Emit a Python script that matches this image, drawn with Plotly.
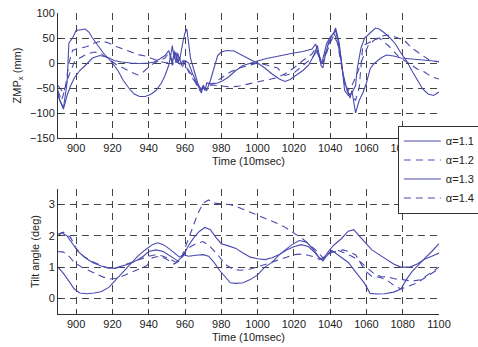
import plotly.graph_objects as go

# ---------------- data ----------------
legend_names = ["α=1.1", "α=1.2", "α=1.3", "α=1.4"]

zmp_a11 = [(890,-60),(891,-75),(893,-90),(895,-40),(896,40),(898,50),(900,65),(903,67),(905,68),(907,62),
           (909,50),(912,35),(915,20),(918,8),(920,0),(923,-15),(926,-35),(929,-50),(932,-62),(935,-67),
           (938,-67),(941,-63),(944,-55),(947,-40),(949,-25),(951,-5),(952,15),(953,-5),(954,25),(955,0),
           (956,20),(957,5),(958,30),(959,45),(960,60),(961,68),(962,40),(963,10),(965,-15),(967,-40),
           (969,-55),(970,-48),(972,-55),(974,-35),(976,-10),(978,15),(980,22),(983,25),(987,24),(990,18),
           (994,10),(998,3),(1000,0),(1004,-10),(1008,-22),(1012,-32),(1015,-37),(1018,-33),(1021,-25),
           (1025,-15),(1028,-5),(1031,15),(1033,35),(1034,10),(1035,-5),(1036,-10),(1037,10),(1039,40),
           (1041,55),(1043,65),(1044,50),(1046,10),(1047,-30),(1048,-55),(1050,-65),(1052,-60),(1054,-45),
           (1055,-10),(1057,30),(1059,50),(1062,60),(1065,70),(1067,68),(1070,60),(1073,50),(1076,38),
           (1079,20),(1082,5),(1085,-15),(1088,-35),(1091,-52),(1094,-62),(1097,-65),(1100,-58)]

zmp_a12 = [(890,-55),(892,-75),(894,-50),(896,0),(898,25),(900,28),(903,30),(906,33),(910,40),(914,44),
           (918,40),(922,33),(926,28),(930,22),(934,17),(938,14),(942,8),(946,3),(950,0),(952,10),(954,-5),
           (956,5),(958,-10),(960,0),(962,-15),(964,-25),(966,-40),(968,-55),(970,-50),(972,-45),(975,-44),
           (980,-46),(985,-48),(990,-46),(995,-42),(1000,-38),(1005,-34),(1010,-30),(1015,-22),(1020,-10),
           (1025,5),(1030,18),(1032,30),(1034,10),(1036,0),(1038,20),(1040,40),(1042,55),(1044,40),(1046,0),
           (1048,-40),(1050,-55),(1052,-45),(1055,-20),(1058,10),(1061,35),(1064,45),(1067,52),(1070,55),
           (1073,56),(1077,50),(1081,45),(1085,30),(1089,20),(1092,12),(1095,5),(1100,2)]

zmp_a13 = [(890,-65),(892,-85),(893,-92),(895,-65),(897,-45),(899,-30),(902,-15),(905,-5),(909,10),(913,15),
           (917,12),(921,5),(925,2),(930,0),(935,-1),(940,0),(943,2),(946,8),(949,15),(951,25),(952,12),
           (953,35),(954,8),(955,22),(956,0),(957,12),(958,-5),(960,5),(962,0),(964,-20),(966,-35),(968,-50),
           (969,-60),(970,-45),(971,-55),(972,-40),(975,-42),(978,-40),(981,-35),(984,-28),(988,-15),(992,-5),
           (996,0),(1000,4),(1005,9),(1010,13),(1015,17),(1020,20),(1025,23),(1030,28),(1032,38),(1034,8),
           (1035,-2),(1036,8),(1038,38),(1040,52),(1042,60),(1043,70),(1045,40),(1047,-20),(1049,-50),
           (1051,-70),(1052,-55),(1054,-100),(1056,-75),(1058,-60),(1060,-40),(1062,-12),(1064,-2),(1068,10),
           (1071,16),(1075,14),(1079,10),(1085,8),(1092,5),(1100,3)]

zmp_a14 = [(890,-45),(893,-60),(896,-25),(899,2),(902,10),(906,18),(910,22),(914,18),(918,8),(922,-3),
           (926,-10),(930,-18),(934,-24),(937,-18),(940,-8),(943,0),(946,5),(949,10),(951,20),(953,5),
           (955,15),(957,-5),(959,5),(961,-10),(963,-25),(965,-35),(967,-45),(969,-52),(971,-40),(975,-42),
           (980,-30),(985,-18),(990,-10),(995,-5),(1000,0),(1005,-4),(1011,-10),(1015,-25),(1020,-20),
           (1025,-5),(1030,10),(1033,25),(1035,5),(1037,15),(1040,45),(1042,60),(1044,45),(1046,5),
           (1048,-45),(1050,-60),(1052,-65),(1054,-75),(1056,-50),(1058,35),(1062,42),(1067,50),(1072,35),
           (1078,12),(1084,-2),(1088,-12),(1092,-18),(1096,-28),(1100,-32)]

tilt_a11 = [(890,1.0),(893,0.8),(896,0.55),(899,0.3),(902,0.17),(906,0.15),(910,0.17),(914,0.22),(918,0.35),
            (922,0.6),(926,0.85),(930,1.1),(934,1.35),(938,1.55),(942,1.72),(945,1.78),(948,1.72),(951,1.6),
            (954,1.45),(957,1.32),(959,1.4),(962,1.35),(966,1.38),(970,1.4),(973,1.35),(976,1.15),(979,0.9),
            (982,0.7),(985,0.5),(988,0.48),(992,0.5),(996,0.6),(1000,0.75),(1004,1.0),(1008,1.15),(1012,1.4),
            (1015,1.53),(1019,1.72),(1023,1.85),(1027,1.8),(1031,1.55),(1034,1.3),(1036,1.2),(1038,1.35),
            (1041,1.53),(1045,1.35),(1050,1.15),(1054,0.85),(1059,0.48),(1062,0.16),(1066,0.14),(1070,0.15),
            (1075,0.2),(1079,0.3),(1082,0.6),(1085,0.85),(1089,1.1),(1092,1.27),(1096,1.5),(1100,1.75)]

tilt_a12 = [(890,2.05),(893,2.12),(897,1.95),(900,1.6),(904,1.35),(908,1.2),(912,1.1),(916,1.0),(920,0.95),
            (924,1.0),(928,1.1),(932,1.18),(936,1.28),(940,1.35),(944,1.4),(948,1.35),(952,1.25),(955,1.15),
            (958,1.3),(961,1.75),(964,2.2),(967,2.7),(970,3.05),(973,3.15),(976,3.05),(980,3.02),(985,3.0),
            (990,2.9),(995,2.78),(1000,2.65),(1005,2.55),(1010,2.42),(1015,2.28),(1020,2.1),(1025,1.9),
            (1030,1.65),(1033,1.5),(1036,1.3),(1040,1.45),(1043,1.5),(1047,1.55),(1050,1.5),(1054,1.4),
            (1057,1.1),(1060,0.85),(1063,0.7),(1067,0.68),(1071,0.6),(1075,0.42),(1079,0.3),(1083,0.38),
            (1088,0.5),(1092,0.65),(1096,0.8),(1100,0.95)]

tilt_a13 = [(890,2.0),(892,2.1),(895,2.0),(898,1.75),(901,1.5),(905,1.3),(909,1.15),(913,1.05),(917,0.98),
            (921,0.96),(925,1.02),(929,1.1),(933,1.2),(937,1.35),(940,1.5),(944,1.55),(948,1.5),(952,1.35),
            (956,1.2),(959,1.35),(962,1.7),(965,1.95),(968,2.15),(971,2.27),(974,2.2),(977,1.95),(980,1.75),
            (984,1.68),(988,1.6),(992,1.45),(996,1.32),(1000,1.27),(1004,1.24),(1008,1.3),(1012,1.4),
            (1016,1.55),(1020,1.65),(1024,1.72),(1028,1.66),(1031,1.5),(1034,1.3),(1036,1.25),(1039,1.5),
            (1042,1.7),(1046,1.9),(1050,2.15),(1053,2.2),(1056,2.0),(1059,1.8),(1063,1.55),(1067,1.4),
            (1071,1.25),(1075,1.1),(1079,1.0),(1084,1.0),(1088,1.1),(1092,1.25),(1096,1.35),(1100,1.45)]

tilt_a14 = [(890,1.5),(893,1.48),(896,1.35),(899,1.15),(903,1.0),(907,0.9),(911,0.8),(915,0.68),(919,0.62),
            (923,0.65),(927,0.75),(931,0.85),(935,0.95),(939,1.05),(942,1.3),(946,1.35),(950,1.25),(954,1.1),
            (957,1.2),(960,1.5),(963,1.65),(966,1.75),(970,1.82),(974,1.65),(978,1.4),(982,1.1),(986,0.95),
            (990,0.9),(995,0.92),(1000,1.0),(1005,1.1),(1010,1.2),(1015,1.3),(1020,1.4),(1025,1.42),
            (1030,1.35),(1034,1.25),(1037,1.3),(1040,1.5),(1044,1.55),(1048,1.45),(1052,1.35),(1056,1.2),
            (1060,1.0),(1064,0.8),(1068,0.7),(1072,0.68),(1076,0.62),(1080,0.6),(1085,0.55),(1090,0.6),
            (1095,0.8),(1100,1.0)]

x_ticks = [900, 920, 940, 960, 980, 1000, 1020, 1040, 1060, 1080, 1100]
zmp_ticks = [-150, -100, -50, 0, 50, 100]
tilt_ticks = [0, 1, 2, 3]

# ---------------- figure ----------------
color = "#4a4aae"
dashes = ["solid", "7px,5px", "solid", "7px,5px"]
zmp_series = [zmp_a11, zmp_a12, zmp_a13, zmp_a14]
tilt_series = [tilt_a11, tilt_a12, tilt_a13, tilt_a14]

fig = go.Figure()
for name, dash, s in zip(legend_names, dashes, zmp_series):
    t, v = zip(*s)
    fig.add_trace(go.Scatter(x=t, y=v, mode="lines", name=name, legendgroup=name,
                             line=dict(color=color, width=1.1, dash=dash), xaxis="x", yaxis="y"))
for name, dash, s in zip(legend_names, dashes, tilt_series):
    t, v = zip(*s)
    fig.add_trace(go.Scatter(x=t, y=v, mode="lines", name=name, legendgroup=name, showlegend=False,
                             line=dict(color=color, width=1.1, dash=dash), xaxis="x2", yaxis="y2"))

font = dict(family="Liberation Sans, Arial, sans-serif", size=11, color="#222")
axis_common = dict(showgrid=True, gridcolor="#444", gridwidth=1, griddash="7px,5px",
                   showline=True, linecolor="#333", linewidth=1, mirror=False,
                   ticks="inside", ticklen=3, tickcolor="#333", zeroline=False, tickfont=font)

fig.update_layout(
    width=478, height=347,
    margin=dict(l=58, r=39, t=13, b=33, autoexpand=False),
    paper_bgcolor="white", plot_bgcolor="white",
    font=font,
    showlegend=True,
    legend=dict(x=0.892, y=0.626, xanchor="left", yanchor="top",
                bgcolor="white", bordercolor="#333", borderwidth=1,
                font=dict(family="Liberation Sans, Arial, sans-serif", size=11, color="#222"),
                itemwidth=37, tracegroupgap=0),
    xaxis=dict(domain=[0, 1], anchor="y", range=[890, 1100], tickvals=x_ticks,
               title=dict(text="Time (10msec)", font=font, standoff=4), **axis_common),
    yaxis=dict(domain=[0.5847, 1], anchor="x", range=[-150, 100], tickvals=zmp_ticks,
               title=dict(text="ZMP<sub>x</sub> (mm)", font=font, standoff=6), **axis_common),
    xaxis2=dict(domain=[0, 1], anchor="y2", range=[890, 1100], tickvals=x_ticks,
                title=dict(text="Time (10msec)", font=font, standoff=4), **axis_common),
    yaxis2=dict(domain=[0, 0.4153], anchor="x2", range=[-0.5, 3.5], tickvals=tilt_ticks,
                title=dict(text="Tilt angle (deg)", font=font, standoff=6), **axis_common),
)

fig.write_html("out.html")
